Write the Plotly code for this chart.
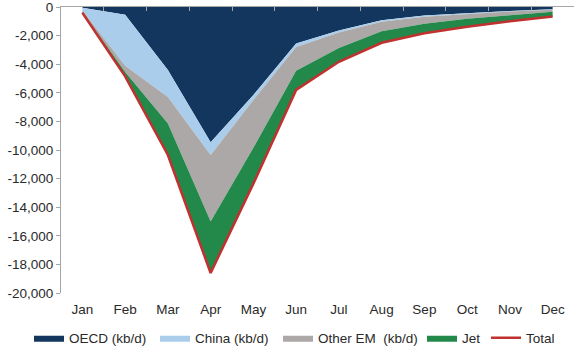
import plotly.graph_objects as go

# Monthly demand change vs. baseline, kb/d
months = ["Jan", "Feb", "Mar", "Apr", "May", "Jun",
          "Jul", "Aug", "Sep", "Oct", "Nov", "Dec"]
oecd = [-50, -550, -4400, -9450, -6150, -2550, -1650, -930, -600, -420, -280, -150]
china = [-200, -3550, -1900, -900, -350, -250, -130, -100, -80, -60, -40, -40]
other_em = [-80, -450, -1850, -4650, -3350, -1650, -1090, -670, -500, -340, -260, -140]
jet = [-70, -300, -2200, -3600, -2500, -1350, -960, -800, -650, -560, -420, -330]
total = [-400, -4850, -10350, -18600, -12350, -5800, -3830, -2500, -1830, -1380, -1000, -660]

y_ticks = [0, -2000, -4000, -6000, -8000, -10000, -12000, -14000, -16000, -18000, -20000]
y_tick_text = ["0", "-2,000", "-4,000", "-6,000", "-8,000", "-10,000",
               "-12,000", "-14,000", "-16,000", "-18,000", "-20,000"]

FONT = "Liberation Sans, Arial, sans-serif"
W, H = 574, 348
x = list(range(len(months)))

# name, values, colour, left edge of its legend entry (px)
areas = [
    ("OECD (kb/d)", oecd, "#13365E", 29),
    ("China (kb/d)", china, "#A9CDEB", 155),
    ("Other EM  (kb/d)", other_em, "#ABA8A7", 278),
    ("Jet", jet, "#23894A", 422),
]
total_legend_x = 486

fig = go.Figure()
legend_layouts = {}
for i, (name, vals, color, lx) in enumerate(areas):
    key = "legend" if i == 0 else f"legend{i + 1}"
    fig.add_trace(go.Scatter(
        x=x, y=vals, name=name, mode="lines",
        stackgroup="one", line=dict(width=0, color=color),
        fillcolor=color, hoverinfo="skip", legend=key,
    ))
    legend_layouts[key] = lx

fig.add_trace(go.Scatter(
    x=x, y=total, name="Total", mode="lines",
    line=dict(color="#C0312F", width=2.5), legend="legend5",
))
legend_layouts["legend5"] = total_legend_x

# top axis carrying the zero line with category-boundary ticks
fig.add_trace(go.Scatter(x=[0], y=[0], xaxis="x2", mode="markers",
                         marker=dict(opacity=0), showlegend=False, hoverinfo="skip"))

legend_style = dict(
    orientation="h", xref="container", yref="container",
    xanchor="left", y=1 - 338 / H, yanchor="middle",
    font=dict(family=FONT, size=13.5, color="#2a2a2a"),
    itemwidth=30, bgcolor="rgba(0,0,0,0)",
)
for key, lx in legend_layouts.items():
    fig.update_layout({key: dict(legend_style, x=lx / W)})

fig.update_layout(
    width=W, height=H,
    margin=dict(l=61, r=0, t=7, b=55),
    paper_bgcolor="white", plot_bgcolor="white",
    font=dict(family=FONT, size=13.5, color="#2a2a2a"),
    showlegend=True,
    xaxis=dict(
        range=[-0.5, 11.5], tickmode="array", tickvals=x, ticktext=months,
        showline=False, showgrid=False, zeroline=False, ticks="",
        ticklabelstandoff=6,
    ),
    xaxis2=dict(
        overlaying="x", side="top", anchor="y", range=[-0.5, 11.5],
        tickmode="array", tickvals=[i + 0.5 for i in range(11)],
        showticklabels=False, ticks="inside", ticklen=4, tickcolor="#A6A6A6",
        showline=True, linecolor="#A6A6A6", linewidth=1,
        showgrid=False, zeroline=False,
    ),
    yaxis=dict(
        range=[-20000, 0], tickmode="array", tickvals=y_ticks, ticktext=y_tick_text,
        showline=True, linecolor="#A6A6A6", linewidth=1,
        ticks="outside", ticklen=4, tickcolor="#A6A6A6",
        showgrid=False, zeroline=False, ticklabeloverflow="allow",
    ),
)

fig.write_html("out.html")
